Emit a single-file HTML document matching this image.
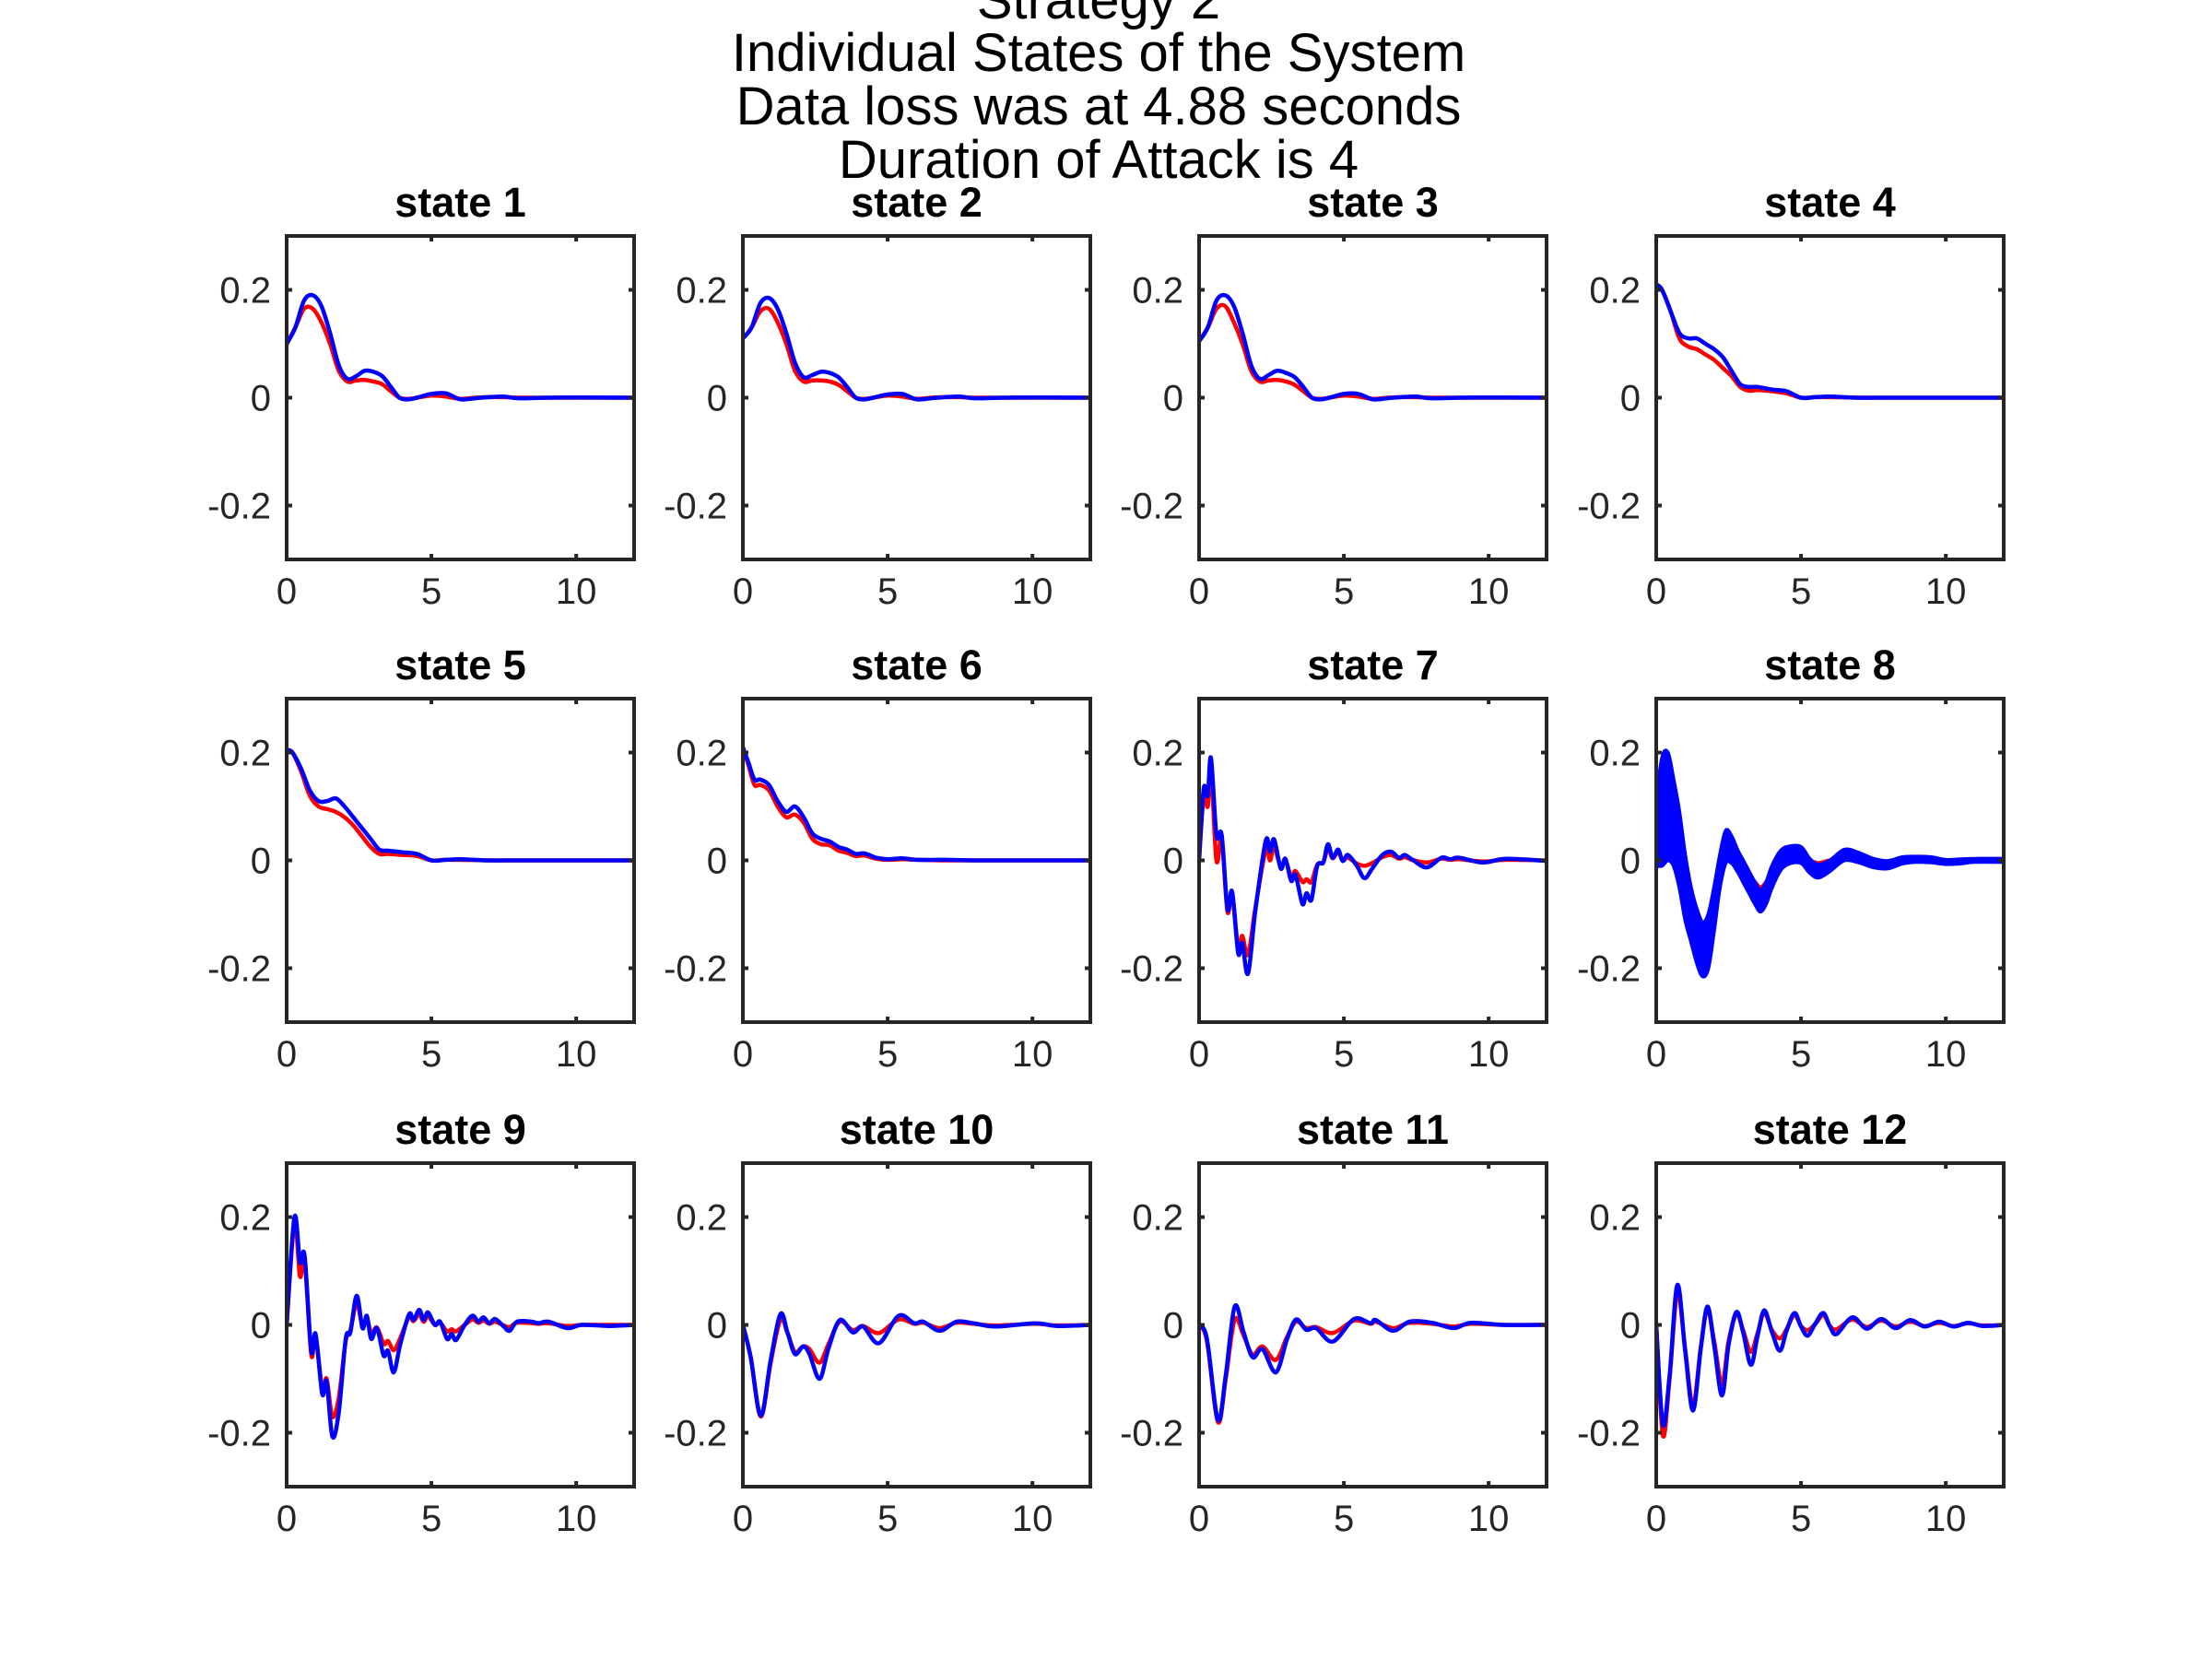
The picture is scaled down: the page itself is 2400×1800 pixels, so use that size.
<!DOCTYPE html>
<html><head><meta charset="utf-8"><style>
html,body{margin:0;padding:0;background:#fff;}
svg{display:block;font-family:"Liberation Sans",Helvetica,Arial,sans-serif;}
</style></head><body>
<svg id="fig" width="2400" height="1800" viewBox="0 0 2400 1800" xmlns="http://www.w3.org/2000/svg">
<rect width="2400" height="1800" fill="#fff"/>
<g font-size="58" fill="#000" text-anchor="middle">
<text x="1192" y="20">Strategy 2</text>
<text x="1192" y="77">Individual States of the System</text>
<text x="1192" y="135">Data loss was at 4.88 seconds</text>
<text x="1192" y="193">Duration of Attack is 4</text>
</g>
<g id="plots"></g>
</svg>
<script>
// ---- data ----
const xTicks=[0,5,10];
const yTicks=[-0.2,0,0.2];
const yTickLabels=["-0.2","0","0.2"];
const xTickLabels=["0","5","10"];
const titles=["state 1","state 2","state 3","state 4","state 5","state 6","state 7","state 8","state 9","state 10","state 11","state 12"];

const t1=[0,0.3,0.6,0.9,1.2,1.5,1.8,2.1,2.4,2.7,3.0,3.3,3.6,3.9,4.2,4.5,5,5.5,6,6.5,7,7.5,8,9,10,12];
const b1=[0.10,0.13,0.18,0.19,0.17,0.12,0.06,0.035,0.04,0.05,0.048,0.04,0.02,0.0,-0.003,0.0,0.007,0.008,-0.003,-0.001,0.001,0.002,-0.001,0,0.0005,0];
const r1=[0.10,0.13,0.165,0.165,0.14,0.10,0.05,0.03,0.032,0.033,0.03,0.025,0.012,0.0,-0.002,0,0.004,0.002,-0.002,0,0.001,0.001,0,0,0,0];
const b2=[0.11,0.13,0.175,0.185,0.165,0.12,0.065,0.038,0.042,0.048,0.046,0.038,0.02,0.0,-0.003,0.0,0.006,0.007,-0.003,-0.001,0.001,0.002,-0.001,0,0.0005,0];
const r2=[0.11,0.13,0.16,0.165,0.14,0.10,0.05,0.03,0.032,0.032,0.03,0.024,0.012,0.0,-0.002,0,0.004,0.002,-0.002,0,0.001,0.001,0,0,0,0];
const b3=[0.105,0.13,0.18,0.19,0.17,0.12,0.06,0.035,0.042,0.05,0.046,0.038,0.02,0.0,-0.003,0.0,0.007,0.007,-0.003,-0.001,0.001,0.002,-0.001,0,0.0005,0];
const r3=[0.105,0.13,0.165,0.17,0.14,0.10,0.05,0.03,0.032,0.033,0.03,0.024,0.012,0.0,-0.002,0,0.004,0.002,-0.002,0,0.001,0.001,0,0,0,0];
const t4=[0,0.2,0.5,0.8,1.1,1.4,1.7,2.0,2.3,2.6,2.9,3.2,3.5,4,4.5,5,5.5,6,7,8,10,12];
const b4=[0.21,0.20,0.16,0.12,0.11,0.11,0.10,0.09,0.075,0.05,0.025,0.02,0.02,0.015,0.012,0,0.001,0.002,0,0,0,0];
const r4=[0.21,0.20,0.16,0.11,0.095,0.09,0.08,0.07,0.055,0.04,0.02,0.013,0.014,0.012,0.008,0,0.001,0.001,0,0,0,0];
const b5=[0.205,0.20,0.17,0.13,0.11,0.11,0.115,0.10,0.08,0.06,0.04,0.02,0.018,0.015,0.012,0.0,0.001,0.002,0,0,0,0];
const r5=[0.205,0.20,0.165,0.12,0.10,0.095,0.09,0.08,0.065,0.045,0.025,0.012,0.012,0.01,0.008,0,0.001,0.001,0,0,0,0];
const t6=[0,0.2,0.4,0.6,0.9,1.2,1.5,1.8,2.1,2.4,2.7,3,3.3,3.6,3.9,4.2,4.6,5,5.5,6,7,8,10,12];
const b6=[0.21,0.18,0.15,0.15,0.14,0.11,0.09,0.10,0.08,0.05,0.04,0.035,0.025,0.02,0.012,0.013,0.005,0.002,0.004,0.001,0.001,0,0,0];
const r6=[0.21,0.175,0.14,0.14,0.13,0.10,0.08,0.085,0.07,0.04,0.03,0.028,0.018,0.014,0.008,0.009,0.003,0.001,0.002,0.001,0,0,0,0];
const t7=[0,0.16,0.3,0.41,0.6,0.78,0.98,1.14,1.35,1.49,1.69,1.94,2.3,2.45,2.59,2.82,2.98,3.18,3.33,3.57,3.71,3.88,4.08,4.29,4.45,4.61,4.8,4.96,5.14,5.45,5.71,5.98,6.33,6.63,6.9,7.1,7.35,7.86,8.37,8.67,8.98,9.8,10.6,12];
const b7=[0,0.133,0.12,0.19,0.047,0.047,-0.09,-0.058,-0.172,-0.153,-0.21,-0.095,0.036,0.016,0.039,-0.015,0.003,-0.038,-0.027,-0.081,-0.061,-0.073,-0.01,-0.004,0.03,0.005,0.02,-0.001,0.01,-0.01,-0.033,-0.015,0.01,0.016,0.005,0.01,0.002,-0.013,0.005,0.002,0.005,-0.004,0.003,-0.001];
const r7=[0,0.12,0.10,0.17,0.0,0.04,-0.095,-0.06,-0.165,-0.14,-0.175,-0.09,0.02,0.0,0.025,-0.012,0.0,-0.03,-0.02,-0.04,-0.035,-0.04,-0.008,-0.003,0.022,0.004,0.015,0,0.005,-0.006,-0.01,-0.005,0.006,0.01,0.003,0.006,0.001,-0.004,0.003,0.001,0.002,-0.002,0.001,0];
const t8=[0,0.2,0.4,0.6,0.8,1.0,1.2,1.4,1.6,1.8,2.0,2.2,2.4,2.6,2.8,3.0,3.2,3.4,3.6,3.8,4.0,4.3,4.6,5.0,5.3,5.6,6.0,6.5,7.0,7.5,8.0,8.5,9,9.5,10,10.5,11,12];
const b8center=[0.05,0.09,0.10,0.07,0.02,-0.05,-0.10,-0.14,-0.165,-0.15,-0.09,-0.02,0.025,0.02,0.0,-0.02,-0.04,-0.06,-0.075,-0.06,-0.03,0.0,0.01,0.01,-0.01,-0.02,-0.01,0.01,0.005,-0.005,-0.008,0.0,0.002,0.001,-0.003,-0.002,0,0];
const b8spread=[0.06,0.10,0.10,0.08,0.07,0.06,0.05,0.05,0.05,0.05,0.04,0.03,0.03,0.025,0.02,0.02,0.02,0.02,0.02,0.02,0.02,0.018,0.016,0.015,0.013,0.012,0.01,0.01,0.009,0.008,0.007,0.006,0.005,0.005,0.004,0.004,0.003,0.003];
const r8=[0.0,0.05,0.04,0.02,-0.02,-0.06,-0.10,-0.12,-0.14,-0.12,-0.06,-0.01,0.0,0.0,-0.01,-0.02,-0.03,-0.04,-0.05,-0.04,-0.02,0.0,0.005,0.005,0,-0.005,0,0.003,0.002,-0.001,-0.002,0,0,0,0,0,0,0];
const t9=[0,0.27,0.46,0.62,0.85,1.0,1.23,1.38,1.58,1.8,2.04,2.2,2.42,2.62,2.77,2.92,3.12,3.35,3.5,3.7,3.92,4.23,4.38,4.58,4.73,4.88,5.12,5.3,5.54,5.7,5.85,6.15,6.42,6.62,6.8,7,7.2,7.5,7.7,7.96,8.46,8.7,9.04,9.7,10.2,11.15,12];
const b9=[0,0.2,0.116,0.128,-0.048,-0.017,-0.128,-0.105,-0.207,-0.162,-0.026,-0.014,0.054,-0.006,0.017,-0.026,-0.006,-0.057,-0.048,-0.088,-0.037,0.02,0.009,0.028,0.009,0.023,0,0.006,-0.026,-0.017,-0.028,0,0.017,0.006,0.014,0.003,0.011,-0.003,-0.011,0.006,0.006,0.003,0.006,-0.006,0,-0.002,0];
const r9=[0,0.19,0.09,0.12,-0.055,-0.02,-0.12,-0.1,-0.17,-0.135,-0.03,-0.01,0.04,-0.002,0.012,-0.015,-0.005,-0.035,-0.03,-0.047,-0.025,0.015,0.007,0.02,0.006,0.016,0,0.004,-0.012,-0.008,-0.012,0,0.01,0.004,0.008,0.002,0.006,-0.001,-0.004,0.004,0.003,0.002,0.003,-0.002,0,0,0];
const t10=[0,0.27,0.62,0.96,1.3,1.54,1.8,2.08,2.3,2.65,2.96,3.35,3.8,4.15,4.7,5.38,5.92,6.23,6.8,7.38,7.96,8.73,10.1,10.85,12];
const b10=[0,-0.06,-0.168,-0.065,0.02,-0.014,-0.054,-0.04,-0.054,-0.1,-0.043,0.009,-0.014,-0.003,-0.034,0.017,0.003,0.006,-0.011,0.006,0.003,-0.003,0.003,-0.002,0];
const r10=[0,-0.06,-0.17,-0.07,0.01,-0.015,-0.05,-0.04,-0.045,-0.07,-0.035,0.006,-0.01,-0.002,-0.015,0.01,0.002,0.004,-0.006,0.004,0.002,-0.001,0.002,-0.001,0];
const t11=[0,0.27,0.65,0.92,1.23,1.54,1.85,2.19,2.65,3.04,3.35,3.7,4.04,4.62,5.35,5.92,6.1,6.7,7.27,8.04,8.8,9.38,10.5,12];
const b11=[0,-0.026,-0.176,-0.094,0.034,-0.014,-0.06,-0.045,-0.088,-0.026,0.01,-0.009,-0.006,-0.031,0.011,0.003,0.009,-0.011,0.006,0.004,-0.006,0.004,0,0];
const r11=[0,-0.03,-0.18,-0.1,0.01,-0.02,-0.055,-0.04,-0.065,-0.022,0.006,-0.006,-0.004,-0.015,0.008,0.002,0.006,-0.006,0.004,0.002,-0.003,0.002,0,0];
const t12=[0,0.23,0.46,0.73,1.0,1.27,1.54,1.77,2.0,2.27,2.5,2.77,3.0,3.27,3.5,3.73,4.0,4.27,4.5,4.77,5,5.23,5.5,5.77,6,6.23,6.77,7.27,7.77,8.27,8.77,9.27,9.77,10.27,10.77,11.27,12];
const b12=[0,-0.185,-0.094,0.074,-0.048,-0.159,-0.043,0.034,-0.037,-0.131,-0.037,0.024,-0.014,-0.074,-0.02,0.027,-0.014,-0.048,-0.011,0.022,-0.003,-0.02,0.003,0.022,-0.003,-0.017,0.014,-0.007,0.011,-0.006,0.009,-0.003,0.006,-0.003,0.004,-0.002,0];
const r12=[0,-0.205,-0.1,0.06,-0.045,-0.15,-0.04,0.028,-0.03,-0.11,-0.03,0.02,-0.01,-0.05,-0.015,0.022,-0.01,-0.025,-0.008,0.018,-0.002,-0.01,0.002,0.018,-0.002,-0.008,0.01,-0.004,0.008,-0.003,0.006,-0.002,0.004,-0.002,0.003,-0.001,0];

const series=[
 {t:t1,r:r1,b:b1},{t:t1,r:r2,b:b2},{t:t1,r:r3,b:b3},{t:t4,r:r4,b:b4},
 {t:t4,r:r5,b:b5},{t:t6,r:r6,b:b6},{t:t7,r:r7,b:b7},{t:t8,r:r8,b:b8center,spread:b8spread},
 {t:t9,r:r9,b:b9},{t:t10,r:r10,b:b10},{t:t11,r:r11,b:b11},{t:t12,r:r12,b:b12}
];

// ---- layout ----
const NS="http://www.w3.org/2000/svg";
const colX=[311,806,1301,1797], rowY=[256,758,1262], W=377, H=351;
const root=document.getElementById('plots');
function mk(tag,attrs,parent){const e=document.createElementNS(NS,tag);for(const k in attrs)e.setAttribute(k,attrs[k]);parent.appendChild(e);return e;}
// Catmull-Rom smoothing through pixel points
function smooth(P,move){
  let d=(move?'M':'L')+P[0][0].toFixed(1)+','+P[0][1].toFixed(1);
  for(let i=0;i<P.length-1;i++){
    const p0=P[Math.max(i-1,0)],p1=P[i],p2=P[i+1],p3=P[Math.min(i+2,P.length-1)];
    const c1=[p1[0]+(p2[0]-p0[0])/6,p1[1]+(p2[1]-p0[1])/6];
    const c2=[p2[0]-(p3[0]-p1[0])/6,p2[1]-(p3[1]-p1[1])/6];
    d+='C'+c1[0].toFixed(1)+','+c1[1].toFixed(1)+' '+c2[0].toFixed(1)+','+c2[1].toFixed(1)+' '+p2[0].toFixed(1)+','+p2[1].toFixed(1);
  }
  return d;
}

series.forEach((s,i)=>{
  const x0=colX[i%4], y0=rowY[Math.floor(i/4)];
  const sx=v=>x0+v/12*W;
  const sy=v=>y0+H-(v+0.3)/0.6*H;
  const g=mk('g',{},root);
  
  
  const title=mk('text',{x:x0+W/2,y:y0-21,'text-anchor':'middle','font-size':45,'font-weight':'bold',fill:'#000'},g);
  title.textContent=titles[i];
  
  
  const clipId='clip'+i;
  const cp=mk('clipPath',{id:clipId},g);
  mk('rect',{x:x0,y:y0,width:W,height:H},cp);
  const dg=mk('g',{'clip-path':'url(#'+clipId+')'},g);
  const pts=arr=>s.t.map((tv,k)=>[sx(tv),sy(arr[k])]);
  const red=mk('path',{d:smooth(pts(s.r),true),fill:'none',stroke:'#ff0000','stroke-width':4.5,'stroke-linejoin':'round'},dg);
  
  
  if(s.spread){
    const up=s.t.map((tv,k)=>[sx(tv),sy(s.b[k]+s.spread[k])]);
    const lo=s.t.map((tv,k)=>[sx(tv),sy(s.b[k]-s.spread[k])]).reverse();
    const band=mk('path',{d:smooth(up,true)+smooth(lo,false)+'Z',fill:'#0000ff',stroke:'#0000ff','stroke-width':4,'stroke-linejoin':'round'},dg);
    
    
  } else {
    const blue=mk('path',{d:smooth(pts(s.b),true),fill:'none',stroke:'#0000ff','stroke-width':4.5,'stroke-linejoin':'round'},dg);
    
    
  }
  const box=mk('rect',{x:x0,y:y0,width:W,height:H,fill:'none',stroke:'#262626','stroke-width':4},g);
  
  
  xTicks.forEach((v,k)=>{
    const x=sx(v);
    mk('line',{x1:x,y1:y0+H,x2:x,y2:y0+H-6,stroke:'#262626','stroke-width':4},g);
    mk('line',{x1:x,y1:y0,x2:x,y2:y0+6,stroke:'#262626','stroke-width':4},g);
    const tl=mk('text',{x:x,y:y0+H+48,'text-anchor':'middle','font-size':40,fill:'#262626'},g);
    tl.textContent=xTickLabels[k];
    
    
  });
  yTicks.forEach((v,k)=>{
    const y=sy(v);
    mk('line',{x1:x0,y1:y,x2:x0+6,y2:y,stroke:'#262626','stroke-width':4},g);
    mk('line',{x1:x0+W,y1:y,x2:x0+W-6,y2:y,stroke:'#262626','stroke-width':4},g);
    const tl=mk('text',{x:x0-17,y:y+14,'text-anchor':'end','font-size':40,fill:'#262626'},g);
    tl.textContent=yTickLabels[k];
    
    
  });
});
</script>
</body></html>
